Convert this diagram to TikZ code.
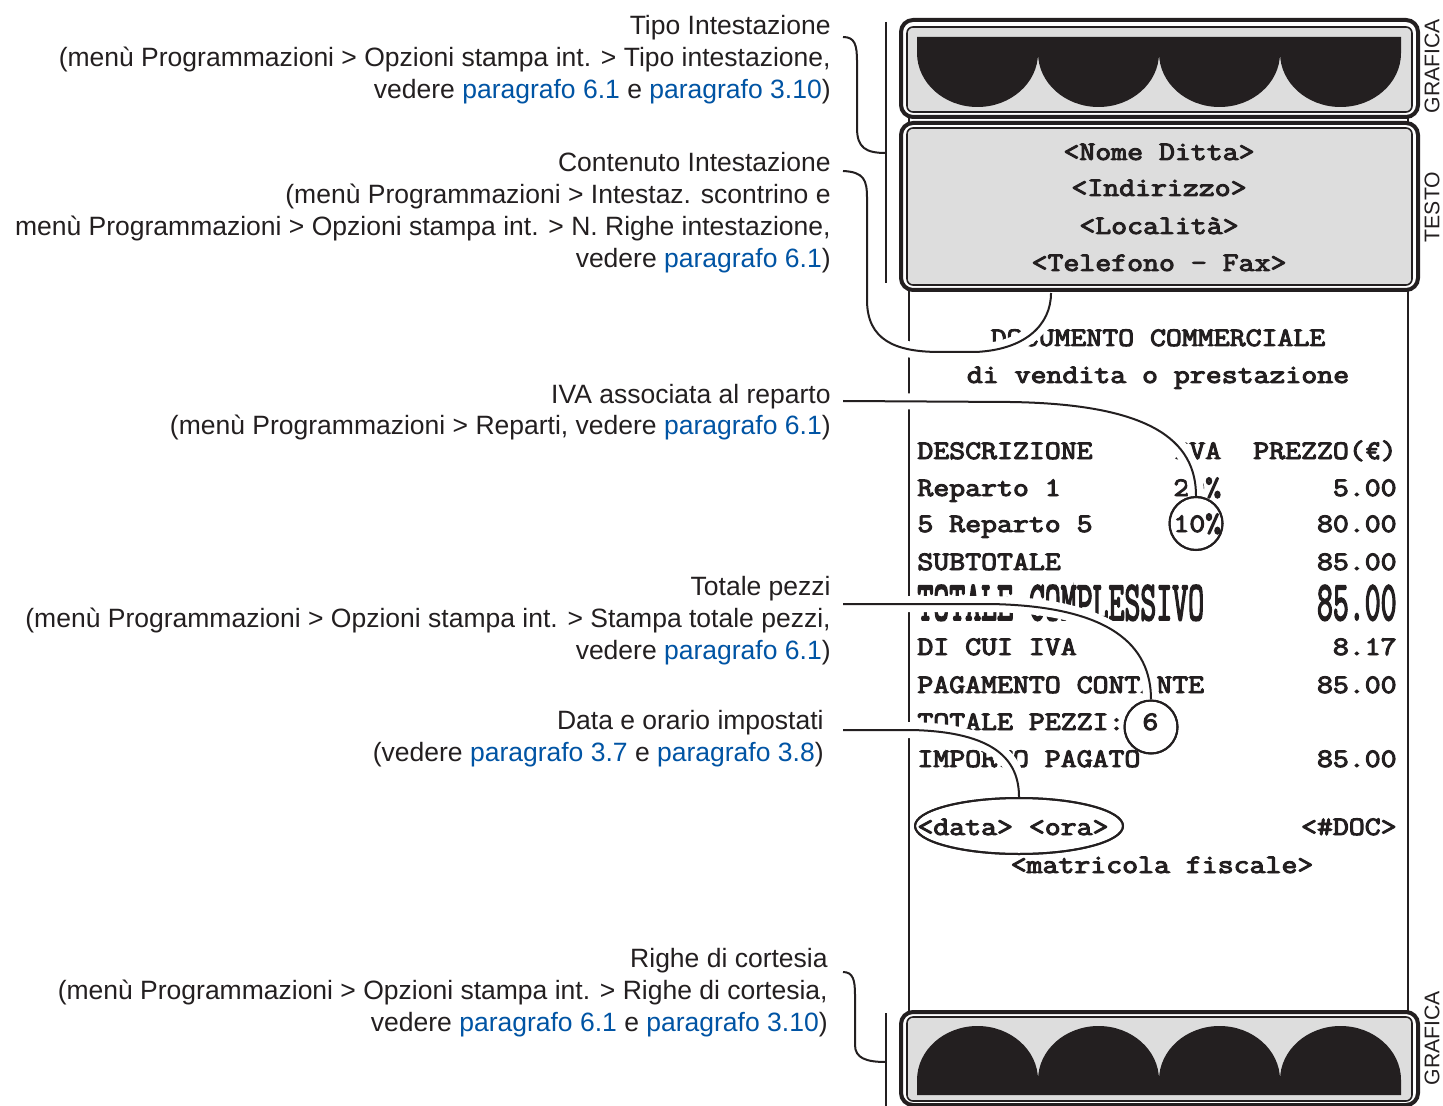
\documentclass[tikz,border=0pt]{standalone}
\usepackage{fontspec}
\setmainfont{Liberation Sans}
\newfontfamily\receiptfont{Latin Modern Mono}[FakeBold=3.5]
\usetikzlibrary{shapes.geometric}
\definecolor{ink}{RGB}{35,31,32}
\definecolor{paper}{RGB}{221,221,221}
\definecolor{linkblue}{RGB}{0,84,164}
\newcommand\pref[1]{\textcolor{linkblue}{#1}}
\newcommand\mtxt[1]{\scalebox{1.16}[1]{#1}}
\begin{document}
\begin{tikzpicture}[x=0.5pt,y=-0.5pt,
  lbl/.style={anchor=base east, inner sep=0pt, font=\fontsize{13.25}{16}\selectfont, text=ink},
  mono/.style={inner sep=0pt, font=\receiptfont\fontsize{13.33}{16}\selectfont, text=ink},
  side/.style={inner sep=0pt, rotate=90, font=\fontsize{10.6}{12}\selectfont, text=ink},
  conn/.style={draw=ink, line width=1pt},
  halo/.style={draw=white, line width=8pt},
  outerbox/.style={draw=ink, fill=white, line width=2pt, rounded corners=6pt},
  innerbox/.style={draw=ink, fill=paper, line width=0.8pt, rounded corners=3pt},
  rline/.style={draw=ink, line width=1.3pt},
  ring/.style={draw=ink, line width=1pt, circle, minimum size=26.5pt, inner sep=0pt},
]
\useasboundingbox (0,0) rectangle (1443,1106);
\fill[white] (0,0) rectangle (1443,1106);

% receipt side lines and bracket lines
\coordinate (rlT) at (909,20); \coordinate (rlB) at (909,1106);
\coordinate (rrT) at (1408,20); \coordinate (rrB) at (1408,1106);
\draw[rline] (rlT) -- (rlB);
\draw[rline] (rrT) -- (rrB);
\coordinate (bkT1) at (886,22); \coordinate (bkT2) at (886,283);
\coordinate (bkB1) at (886,1013); \coordinate (bkB2) at (886,1106);
\draw[rline] (bkT1) -- (bkT2);
\draw[rline] (bkB1) -- (bkB2);

% top graphic box
\draw[outerbox] (901,20) rectangle (1418,117);
\draw[innerbox] (907,27) rectangle (1412,112);
\fill[ink] (917,37) -- (917,53)
  .. controls (917,82.8) and (944.1,107) .. (977.5,107) .. controls (1010.9,107) and (1038,82.8) .. (1038,53)
  .. controls (1038,82.8) and (1065.1,107) .. (1098.5,107) .. controls (1131.9,107) and (1159,82.8) .. (1159,53)
  .. controls (1159,82.8) and (1186.1,107) .. (1219.5,107) .. controls (1252.9,107) and (1280,82.8) .. (1280,53)
  .. controls (1280,82.8) and (1307.1,107) .. (1340.5,107) .. controls (1373.9,107) and (1401,82.8) .. (1401,53)
  -- (1401,37) -- cycle;

% text header box
\draw[outerbox] (901,123) rectangle (1418,290);
\draw[innerbox] (907,128) rectangle (1412,285);
\node[mono, anchor=base] (h1) at (1159,160) {\mtxt{<Nome Ditta>}};
\node[mono, anchor=base] (h2) at (1159,196) {\mtxt{<Indirizzo>}};
\node[mono, anchor=base] (h3) at (1159,234) {\mtxt{<Località>}};
\node[mono, anchor=base] (h4) at (1159,271) {\mtxt{<Telefono - Fax>}};

% bottom graphic box
\draw[outerbox] (901,1012) rectangle (1418,1105);
\draw[innerbox] (907,1017) rectangle (1412,1101);
\fill[ink] (917,1095) -- (917,1080)
  .. controls (917,1050.2) and (944.1,1026) .. (977.5,1026) .. controls (1010.9,1026) and (1038,1050.2) .. (1038,1080)
  .. controls (1038,1050.2) and (1065.1,1026) .. (1098.5,1026) .. controls (1131.9,1026) and (1159,1050.2) .. (1159,1080)
  .. controls (1159,1050.2) and (1186.1,1026) .. (1219.5,1026) .. controls (1252.9,1026) and (1280,1050.2) .. (1280,1080)
  .. controls (1280,1050.2) and (1307.1,1026) .. (1340.5,1026) .. controls (1373.9,1026) and (1401,1050.2) .. (1401,1080)
  -- (1401,1095) -- cycle;

% side labels
\node[side] (sg1) at (1432,66) {GRAFICA};
\node[side] (st) at (1432,207) {TESTO};
\node[side] (sg2) at (1432,1038) {GRAFICA};

% receipt text
\node[mono, anchor=base] (r1) at (1158,346) {\mtxt{DOCUMENTO COMMERCIALE}};
\node[mono, anchor=base] (r2) at (1158,383) {\mtxt{di vendita o prestazione}};
\node[mono, anchor=base west] (r3a) at (917,459) {\mtxt{DESCRIZIONE}};
\node[mono, anchor=base west] (r3b) at (1173,459) {\mtxt{IVA}};
\node[mono, anchor=base east] (r3c) at (1397,459) {\mtxt{PREZZO(€)}};
\node[mono, anchor=base west] (r4a) at (917,496) {\mtxt{Reparto 1}};
\node[mono, anchor=base west] (r4b) at (1173,496) {\mtxt{20\%}};
\node[mono, anchor=base east] (r4c) at (1397,496) {\mtxt{5.00}};
\node[mono, anchor=base west] (r5a) at (917,532) {\mtxt{5 Reparto 5}};
\node[mono, anchor=base west] (r5b) at (1173,532) {\mtxt{10\%}};
\node[mono, anchor=base east] (r5c) at (1397,532) {\mtxt{80.00}};
\node[mono, anchor=base west] (r6a) at (917,570) {\mtxt{SUBTOTALE}};
\node[mono, anchor=base east] (r6c) at (1397,570) {\mtxt{85.00}};
\node[mono, anchor=base west] (r7a) at (917,620) {\scalebox{1.16}[2.1]{TOTALE COMPLESSIVO}};
\node[mono, anchor=base east] (r7c) at (1397,620) {\scalebox{1.16}[2.1]{85.00}};
\node[mono, anchor=base west] (r8a) at (917,655) {\mtxt{DI CUI IVA}};
\node[mono, anchor=base east] (r8c) at (1397,655) {\mtxt{8.17}};
\node[mono, anchor=base west] (r9a) at (917,693) {\mtxt{PAGAMENTO CONTANTE}};
\node[mono, anchor=base east] (r9c) at (1397,693) {\mtxt{85.00}};
\node[mono, anchor=base west] (r10a) at (917,730) {\mtxt{TOTALE PEZZI:}};
\node[mono, anchor=base west] (r10b) at (1142,730) {\mtxt{6}};
\node[mono, anchor=base west] (r11a) at (917,767) {\mtxt{IMPORTO PAGATO}};
\node[mono, anchor=base east] (r11c) at (1397,767) {\mtxt{85.00}};
\node[mono, anchor=base west] (r12a) at (917,835) {\mtxt{<data> <ora>}};
\node[mono, anchor=base east] (r12c) at (1397,835) {\mtxt{<\#DOC>}};
\node[mono, anchor=base] (r13) at (1162,873) {\mtxt{<matricola fiscale>}};

% markers
\node[ring] (c10) at (1196,523.5) {};
\node[ring] (c6) at (1151,727) {};
\node[ellipse, draw=ink, line width=1pt, minimum width=104pt, minimum height=28pt, inner sep=0pt] (edate) at (1019,826) {};

% connector start points
\coordinate (tipoS) at (843,37);
\coordinate (brTop) at (886,153);
\coordinate (contS) at (843,171);
\coordinate (contE) at (1051,293);
\coordinate (ivaS) at (843,401);
\coordinate (pezS) at (843,604);
\coordinate (dataS) at (843,730);
\coordinate (righeS) at (843,972);
\coordinate (brBot) at (886,1062);

% haloed connectors
\path[halo] (contS) .. controls (864,172) and (867,180) .. (867,198) -- (867,300) .. controls (867,340) and (895,352) .. (940,352) -- (975,352) .. controls (1025,350) and (1051,325) .. (contE);
\path[halo] (ivaS) -- (1010,402) .. controls (1150,404) and (1196,440) .. (c10.north);
\path[halo] (pezS) -- (990,604) .. controls (1110,606) and (1151,645) .. (c6.north);
\path[halo] (dataS) -- (912,730) .. controls (995,732) and (1019,760) .. (edate.north);
\draw[conn] (contS) .. controls (864,172) and (867,180) .. (867,198) -- (867,300) .. controls (867,340) and (895,352) .. (940,352) -- (975,352) .. controls (1025,350) and (1051,325) .. (contE);
\draw[conn] (ivaS) -- (1010,402) .. controls (1150,404) and (1196,440) .. (c10.north);
\draw[conn] (pezS) -- (990,604) .. controls (1110,606) and (1151,645) .. (c6.north);
\draw[conn] (dataS) -- (912,730) .. controls (995,732) and (1019,760) .. (edate.north);
% redraw markers over halos
\node[ring] at (c10) {};
\node[ring] at (c6) {};
\node[ellipse, draw=ink, line width=1pt, minimum width=104pt, minimum height=28pt, inner sep=0pt] at (edate) {};

% bracket connectors
\draw[conn] (tipoS) .. controls (855,37) and (857,45) .. (857,62) -- (857,128) .. controls (857,148) and (866,153) .. (brTop);
\draw[conn] (righeS) .. controls (853,972) and (855,980) .. (855,995) -- (855,1045) .. controls (855,1058) and (866,1062) .. (brBot);

% left labels
\node[lbl] (t1a) at (831,35) {Tipo Intestazione};
\node[lbl] (t1b) at (831,67) {(menù Programmazioni > Opzioni stampa int. > Tipo intestazione,};
\node[lbl] (t1c) at (831,99) {vedere \pref{paragrafo 6.1} e \pref{paragrafo 3.10})};
\node[lbl] (t2a) at (831,172) {Contenuto Intestazione};
\node[lbl] (t2b) at (831,204) {(menù Programmazioni > Intestaz. scontrino e};
\node[lbl] (t2c) at (831,236) {menù Programmazioni > Opzioni stampa int. > N. Righe intestazione,};
\node[lbl] (t2d) at (831,268) {vedere \pref{paragrafo 6.1})};
\node[lbl] (t3a) at (831,403) {IVA associata al reparto};
\node[lbl] (t3b) at (831,435) {(menù Programmazioni > Reparti, vedere \pref{paragrafo 6.1})};
\node[lbl] (t4a) at (831,595) {Totale pezzi};
\node[lbl] (t4b) at (831,627) {(menù Programmazioni > Opzioni stampa int. > Stampa totale pezzi,};
\node[lbl] (t4c) at (831,659) {vedere \pref{paragrafo 6.1})};
\node[lbl] (t5a) at (824,729) {Data e orario impostati};
\node[lbl] (t5b) at (824,761) {(vedere \pref{paragrafo 3.7} e \pref{paragrafo 3.8})};
\node[lbl] (t6a) at (828,967) {Righe di cortesia};
\node[lbl] (t6b) at (828,999) {(menù Programmazioni > Opzioni stampa int. > Righe di cortesia,};
\node[lbl] (t6c) at (828,1031) {vedere \pref{paragrafo 6.1} e \pref{paragrafo 3.10})};
\end{tikzpicture}
\end{document}
